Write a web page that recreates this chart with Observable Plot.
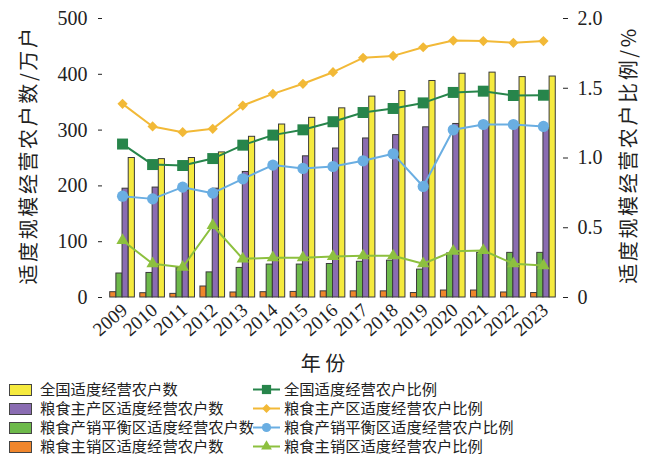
<!DOCTYPE html>
<html>
<head>
<meta charset="utf-8">
<script src="https://cdn.jsdelivr.net/npm/d3@7"></script>
<script src="https://cdn.jsdelivr.net/npm/@observablehq/plot@0.6"></script>
<style>
  html, body { margin: 0; padding: 0; background: #fff; }
  #wrap { position: relative; width: 656px; height: 459px; }
  #legend { position: absolute; left: 0; top: 381px; width: 656px; font-family: "Liberation Serif", "Noto Sans CJK SC", sans-serif; font-size: 15.3px; color: #222; }
  .row { position: absolute; height: 18px; line-height: 18px; white-space: nowrap; width: 600px; }
  .sw { position: absolute; top: 3px; width: 21px; height: 10px; border: 1.5px solid #444; }
  .lbl { position: absolute; top: 0; display: block; height: 18px; line-height: 18px; overflow: visible; }
  .ttl text { letter-spacing: 2.6px; }
</style>
</head>
<body>
<div id="wrap">
  <div id="chart"></div>
  <div id="legend"></div>
</div>
<script>
const years = [2009, 2010, 2011, 2012, 2013, 2014, 2015, 2016, 2017, 2018, 2019, 2020, 2021, 2022, 2023];

// 适度经营农户数 (万户)
const nationalCount = [250, 248, 250, 260, 288, 310, 322, 339, 360, 370, 388, 401, 403, 395, 396];
const mainProdCount = [195, 197, 192, 195, 225, 234, 253, 267, 285, 291, 305, 311, 311, 310, 304];
const balanceCount  = [43, 44, 53, 45, 53, 59, 59, 60, 64, 66, 50, 79, 80, 80, 80];
const mainSaleCount = [9.5, 7.7, 6.5, 19.7, 9, 9.5, 10, 11, 11, 11, 8, 12.5, 12.5, 9, 8];

// 适度经营农户比例 (%)
const nationalRatio = [1.10, 0.953, 0.946, 0.996, 1.092, 1.164, 1.202, 1.26, 1.326, 1.355, 1.395, 1.47, 1.479, 1.448, 1.45];
const mainProdRatio = [1.388, 1.226, 1.185, 1.209, 1.376, 1.46, 1.532, 1.615, 1.718, 1.732, 1.794, 1.842, 1.838, 1.826, 1.838];
const balanceRatio  = [0.726, 0.707, 0.791, 0.748, 0.851, 0.949, 0.925, 0.939, 0.98, 1.03, 0.796, 1.202, 1.24, 1.24, 1.226];
const mainSaleRatio = [0.409, 0.242, 0.217, 0.516, 0.277, 0.285, 0.285, 0.294, 0.299, 0.299, 0.242, 0.332, 0.337, 0.242, 0.229];

const barNames = ["全国适度经营农户数", "粮食主产区适度经营农户数", "粮食产销平衡区适度经营农户数", "粮食主销区适度经营农户数"];
const lineNames = ["全国适度经营农户比例", "粮食主产区适度经营农户比例", "粮食产销平衡区适度经营农户比例", "粮食主销区适度经营农户比例"];
const yTicks = [0, 100, 200, 300, 400, 500];
const rTicks = [0, 0.5, 1.0, 1.5, 2.0];
const yLabel = "适度规模经营农户数/万户";
const rLabel = "适度规模经营农户比例/%";
const xLabel = "年 份";

const barColors = ["#f5ea3e", "#8a6cb2", "#6db94a", "#f0862c"];
const lineColors = ["#27854b", "#f2b937", "#6aaee2", "#8dc03f"];
const symbols = ["square", "diamond2", "circle", "triangle"];
const symR = [6.2, 4.6, 5.6, 4.6];

const RSCALE = 250; // 2.0 % maps to 500 on the left scale
const barW = 0.205;

// bar order left->right within a year: 主销区, 平衡区, 主产区, 全国
const barSeries = [
  {vals: mainSaleCount, color: barColors[3], k: 0},
  {vals: balanceCount, color: barColors[2], k: 1},
  {vals: mainProdCount, color: barColors[1], k: 2},
  {vals: nationalCount, color: barColors[0], k: 3}
];
const lineSeries = [
  {vals: nationalRatio, i: 0},
  {vals: mainProdRatio, i: 1},
  {vals: balanceRatio, i: 2},
  {vals: mainSaleRatio, i: 3}
];

const marks = [];
for (const s of barSeries) {
  const data = years.map((y, j) => ({year: y, v: s.vals[j]}));
  marks.push(Plot.rectY(data, {
    x1: d => d.year - 2 * barW + s.k * barW,
    x2: d => d.year - 2 * barW + (s.k + 1) * barW,
    y1: 0, y2: "v",
    fill: s.color, stroke: "#3a3a3a", strokeWidth: 1
  }));
}
for (const s of lineSeries) {
  const data = years.map((y, j) => ({year: y, v: s.vals[j] * RSCALE}));
  marks.push(Plot.line(data, {x: "year", y: "v", stroke: lineColors[s.i], strokeWidth: 2}));
  marks.push(Plot.dot(data, {x: "year", y: "v", symbol: symbols[s.i], r: symR[s.i], fill: lineColors[s.i], stroke: "none"}));
}
marks.push(Plot.axisY({ticks: yTicks, anchor: "left", line: true, tickSize: -4, tickPadding: 15, fontSize: 20, label: null}));
marks.push(Plot.axisY({ticks: rTicks.map(t => t * RSCALE), anchor: "right", line: true, tickSize: -5, tickPadding: 15, fontSize: 20, label: null,
  tickFormat: d => d === 0 ? "0" : (d / RSCALE).toFixed(1)}));
marks.push(Plot.axisX({ticks: years, anchor: "bottom", line: true, tickSize: 0, tickPadding: 10, tickRotate: -41, fontSize: 19, dx: 2, label: null, tickFormat: d => String(d)}));
marks.push(Plot.text([yLabel], {className: "ttl", frameAnchor: "left", textAnchor: "middle", lineAnchor: "middle", rotate: -90, dx: -69, dy: -3, fontSize: 20, fontFamily: "Noto Sans CJK SC", fill: "#222", text: d => d}));
marks.push(Plot.text([rLabel], {className: "ttl", frameAnchor: "right", textAnchor: "middle", lineAnchor: "middle", rotate: -90, dx: 62, dy: -3, fontSize: 20, fontFamily: "Noto Sans CJK SC", fill: "#222", text: d => d}));
marks.push(Plot.text([xLabel], {frameAnchor: "bottom", lineAnchor: "middle", dy: 67, dx: -10, fontSize: 20, fontFamily: "Noto Sans CJK SC", fill: "#222", text: d => d}));

const chart = Plot.plot({
  width: 656,
  height: 375,
  marginLeft: 98,
  marginRight: 89,
  marginTop: 18,
  marginBottom: 78,
  style: {fontFamily: "Liberation Serif", color: "#222", background: "#fff", overflow: "visible"},
  x: {type: "linear", domain: [2008.2, 2023.8]},
  y: {domain: [0, 500]},
  marks
});
document.getElementById("chart").appendChild(chart);

// legend
const leg = document.getElementById("legend");
const legendBars = [0, 1, 2, 3];
legendBars.forEach((i, r) => {
  const row = document.createElement("div");
  row.className = "row";
  row.style.left = "0px";
  row.style.top = (r * 19) + "px";
  row.innerHTML = `<div class="sw" style="left:9px;background:${barColors[i]}"></div><span class="lbl" style="left:40px">${barNames[i]}</span>`;
  leg.appendChild(row);
});
lineNames.forEach((name, i) => {
  const row = document.createElement("div");
  row.className = "row";
  row.style.left = "0px";
  row.style.top = (i * 19) + "px";
  const sym = d3.symbol(i === 0 ? d3.symbolSquare : i === 1 ? d3.symbolDiamond2 : i === 2 ? d3.symbolCircle : d3.symbolTriangle, Math.PI * [5.2, 4.0, 4.6, 4.0][i] ** 2)();
  row.innerHTML = `<svg style="position:absolute;left:253px;top:0px" width="28" height="17"><line x1="0" x2="27" y1="8.5" y2="8.5" stroke="${lineColors[i]}" stroke-width="2"/><path transform="translate(13.5,8.5)" d="${sym}" fill="${lineColors[i]}"/></svg><span class="lbl" style="left:284px">${name}</span>`;
  leg.appendChild(row);
});
</script>
</body>
</html>
